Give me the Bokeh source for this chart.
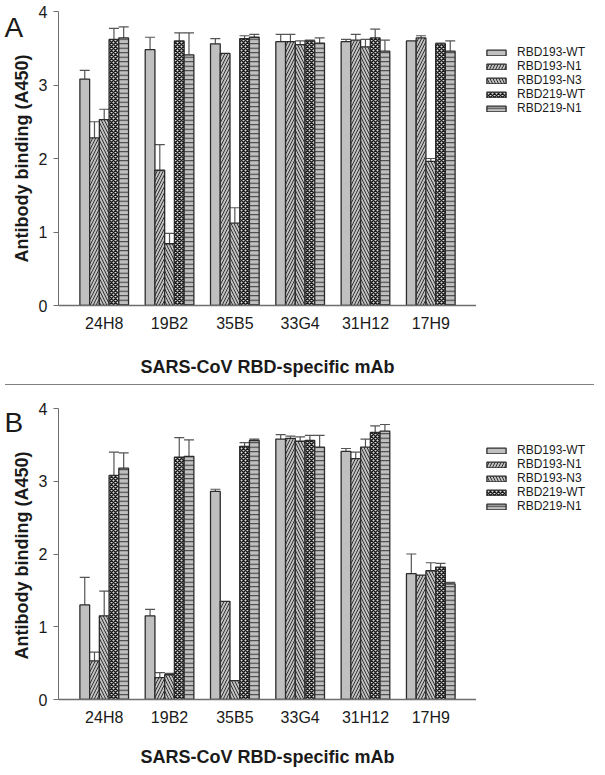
import math
from bokeh.plotting import figure
from bokeh.models import (ColumnDataSource, Whisker, TeeHead, Legend, LegendItem,
                          Label, FixedTicker, Range1d, Div)
from bokeh.layouts import column, row
from bokeh.embed import file_html
from bokeh.resources import INLINE

# ---------------- data ----------------
cats = ["24H8", "19B2", "35B5", "33G4", "31H12", "17H9"]
series = ["RBD193-WT", "RBD193-N1", "RBD193-N3", "RBD219-WT", "RBD219-N1"]

# Panel A
a_rbd193_wt = [3.08, 3.48, 3.56, 3.59, 3.59, 3.60]
a_rbd193_wt_err = [0.12, 0.17, 0.07, 0.10, 0.03, 0.0]
a_rbd193_n1 = [2.28, 1.84, 3.43, 3.59, 3.61, 3.64]
a_rbd193_n1_err = [0.22, 0.35, 0.0, 0.10, 0.08, 0.03]
a_rbd193_n3 = [2.53, 0.84, 1.12, 3.55, 3.52, 1.96]
a_rbd193_n3_err = [0.14, 0.14, 0.21, 0.05, 0.10, 0.04]
a_rbd219_wt = [3.62, 3.60, 3.63, 3.60, 3.64, 3.56]
a_rbd219_wt_err = [0.15, 0.11, 0.04, 0.01, 0.12, 0.01]
a_rbd219_n1 = [3.64, 3.41, 3.65, 3.57, 3.46, 3.46]
a_rbd219_n1_err = [0.15, 0.30, 0.04, 0.07, 0.15, 0.14]

# Panel B
b_rbd193_wt = [1.30, 1.15, 2.86, 3.58, 3.41, 1.73]
b_rbd193_wt_err = [0.38, 0.09, 0.03, 0.06, 0.04, 0.27]
b_rbd193_n1 = [0.53, 0.30, 1.35, 3.59, 3.31, 1.71]
b_rbd193_n1_err = [0.12, 0.07, 0.0, 0.03, 0.09, 0.0]
b_rbd193_n3 = [1.15, 0.34, 0.26, 3.55, 3.47, 1.77]
b_rbd193_n3_err = [0.34, 0.02, 0.0, 0.06, 0.11, 0.11]
b_rbd219_wt = [3.08, 3.33, 3.48, 3.56, 3.67, 1.82]
b_rbd219_wt_err = [0.32, 0.27, 0.05, 0.07, 0.09, 0.05]
b_rbd219_n1 = [3.18, 3.34, 3.56, 3.47, 3.69, 1.59]
b_rbd219_n1_err = [0.21, 0.23, 0.02, 0.16, 0.09, 0.02]

y_ticks = [0, 1, 2, 3, 4]
y_title = "Antibody binding (A450)"
x_title = "SARS-CoV RBD-specific mAb"

panel_a_vals = [a_rbd193_wt, a_rbd193_n1, a_rbd193_n3, a_rbd219_wt, a_rbd219_n1]
panel_a_errs = [a_rbd193_wt_err, a_rbd193_n1_err, a_rbd193_n3_err, a_rbd219_wt_err, a_rbd219_n1_err]
panel_b_vals = [b_rbd193_wt, b_rbd193_n1, b_rbd193_n3, b_rbd219_wt, b_rbd219_n1]
panel_b_errs = [b_rbd193_wt_err, b_rbd193_n1_err, b_rbd193_n3_err, b_rbd219_wt_err, b_rbd219_n1_err]

# ---------------- styles ----------------
FONT = "Liberation Sans"
TXT = "#1a1a1a"
AX = "#6e6e6e"
GREY = "#c0c0c0"
EDGE = "#2b2b2b"
bar_styles = [
    dict(fill_color=GREY),
    dict(fill_color=GREY, hatch_pattern="/", hatch_color="#333333", hatch_scale=6, hatch_weight=1.0),
    dict(fill_color=GREY, hatch_pattern="\\", hatch_color="#333333", hatch_scale=6, hatch_weight=1.0),
    dict(fill_color="#dcdcdc", hatch_pattern="x", hatch_color="#1a1a1a", hatch_scale=4, hatch_weight=1.5),
    dict(fill_color=GREY, hatch_pattern="-", hatch_color="#333333", hatch_scale=4.5, hatch_weight=1.0),
]
BAR_W = 0.149
H = 379


def blank(width):
    f = figure(width=width, height=H, output_backend="svg", toolbar_location=None,
               x_range=Range1d(0, 1), y_range=Range1d(0, 1),
               x_axis_type=None, y_axis_type=None, min_border=0)
    f.frame_align = False
    f.outline_line_color = None
    f.grid.visible = False
    return f


def make_panel(vals, errs, letter, top, bottom, letter_base, legend_bottom,
               tick_standoff, title_standoff):
    # left strip: panel letter + y-axis title
    ls = blank(33)
    ls.add_layout(Label(x=4, y=H - letter_base, x_units="screen", y_units="screen", text=letter,
                        text_font=FONT, text_font_size="28px", text_color=TXT,
                        text_baseline="alphabetic"))
    frame_mid = bottom + (H - top - bottom) / 2
    ls.add_layout(Label(x=21, y=frame_mid, x_units="screen", y_units="screen", text=y_title,
                        angle=math.pi / 2, text_align="center", text_baseline="middle",
                        text_font=FONT, text_font_size="18px", text_font_style="bold",
                        text_color=TXT))

    p = figure(width=443, height=H, output_backend="svg", toolbar_location=None,
               x_range=Range1d(-0.7, 5.7), y_range=Range1d(0, 4),
               min_border_left=25, min_border_right=0,
               min_border_top=top, min_border_bottom=bottom)
    p.outline_line_color = None
    p.grid.visible = False

    rs = blank(113)
    items = []
    for k, (name, v, e, st) in enumerate(zip(series, vals, errs, bar_styles)):
        off = (k - 2) * BAR_W
        xs = [i + off for i in range(len(cats))]
        src = ColumnDataSource(dict(x=xs, top=v))
        p.vbar(x="x", top="top", width=BAR_W, bottom=0, source=src,
               line_color=EDGE, line_width=1.3, **st)
        wx = [x for x, ee in zip(xs, e) if ee > 0]
        wl = [vv for vv, ee in zip(v, e) if ee > 0]
        wh = [vv + ee for vv, ee in zip(v, e) if ee > 0]
        wsrc = ColumnDataSource(dict(base=wx, lower=wl, upper=wh))
        p.add_layout(Whisker(base="base", lower="lower", upper="upper", source=wsrc,
                             line_color="#555555", line_width=1.2, lower_head=None,
                             upper_head=TeeHead(size=10, line_color="#555555", line_width=1.2)))
        # hidden copy in the legend strip, used only for the legend swatch
        lr = rs.vbar(x="x", top="top", width=BAR_W, bottom=0, source=src,
                     line_color=EDGE, line_width=1.3, visible=False, **st)
        items.append(LegendItem(label=name, renderers=[lr]))

    leg = Legend(items=items, location=(8, H - legend_bottom), glyph_width=24, glyph_height=7,
                 label_text_font=FONT, label_text_font_size="12px", label_text_color=TXT,
                 label_standoff=9, spacing=0, padding=0, margin=0, label_height=9,
                 border_line_color=None, background_fill_alpha=0)
    rs.add_layout(leg)

    # axes
    p.yaxis.ticker = FixedTicker(ticks=y_ticks)
    p.yaxis.minor_tick_line_color = None
    p.yaxis.major_tick_out = 5
    p.yaxis.major_tick_in = 0
    p.yaxis.axis_line_color = AX
    p.yaxis.major_tick_line_color = AX
    p.yaxis.major_label_text_font = FONT
    p.yaxis.major_label_text_font_size = "16px"
    p.yaxis.major_label_text_color = TXT
    p.yaxis.major_label_standoff = 6

    p.xaxis.ticker = FixedTicker(ticks=list(range(len(cats))))
    p.xaxis.major_label_overrides = {i: c for i, c in enumerate(cats)}
    p.xaxis.minor_tick_line_color = None
    p.xaxis.major_tick_out = 0
    p.xaxis.major_tick_in = 0
    p.xaxis.axis_line_color = AX
    p.xaxis.axis_line_width = 1.3
    p.xaxis.major_label_text_font = FONT
    p.xaxis.major_label_text_font_size = "16px"
    p.xaxis.major_label_text_color = TXT
    p.xaxis.major_label_standoff = tick_standoff
    p.xaxis.axis_label = x_title
    p.xaxis.axis_label_text_font = FONT
    p.xaxis.axis_label_text_font_style = "bold"
    p.xaxis.axis_label_text_font_size = "18px"
    p.xaxis.axis_label_text_color = TXT
    p.xaxis.axis_label_standoff = title_standoff

    return row(ls, p, rs, spacing=0)


pa = make_panel(panel_a_vals, panel_a_errs, "A", 11, 74, 27, 115, 9, 22)
sep = Div(text="", width=589, height=1, styles={"background-color": "#808080"})
pb = make_panel(panel_b_vals, panel_b_errs, "B", 18, 67, 32, 123, 9, 18)

layout = column(pa, sep, pb, spacing=0)
open("out.html", "w").write(file_html(layout, INLINE))
